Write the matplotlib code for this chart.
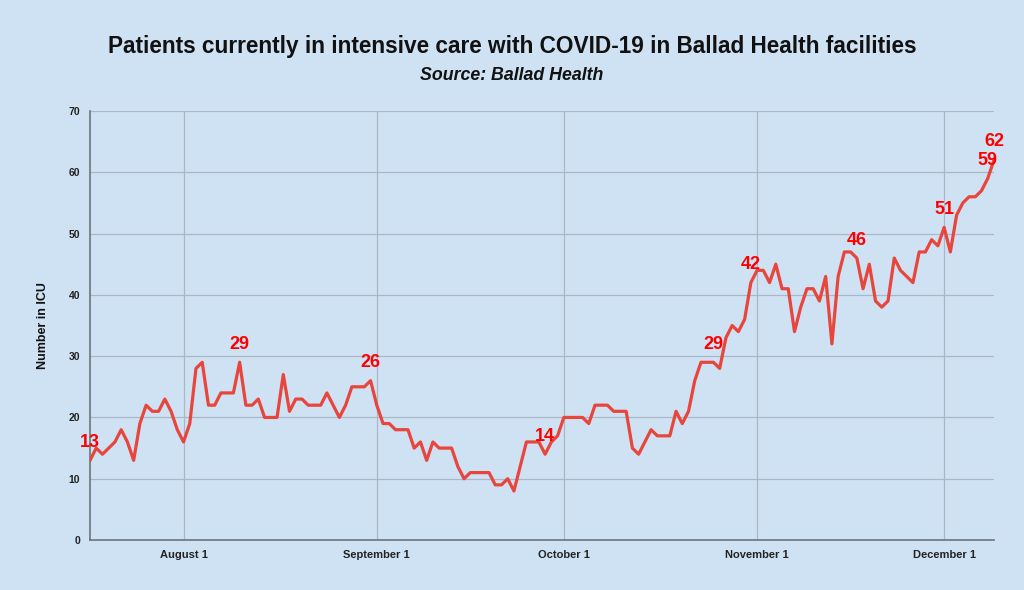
import matplotlib
matplotlib.use("Agg")
import matplotlib.pyplot as plt
import matplotlib.dates as mdates
import pandas as pd

# daily ICU counts, July 17 - December 9
start_date = "2020-07-17"
end_date = "2020-12-09"
icu_jul = [13, 15, 14, 15, 16, 18, 16, 13, 19, 22, 21, 21, 23, 21, 18]
icu_aug = [16, 19, 28, 29, 22, 22, 24, 24, 24, 29,
           22, 22, 23, 20, 20, 20, 27, 21, 23, 23,
           22, 22, 22, 24, 22, 20, 22, 25, 25, 25, 26]
icu_sep = [22, 19, 19, 18, 18, 18, 15, 16, 13, 16,
           15, 15, 15, 12, 10, 11, 11, 11, 11, 9,
           9, 10, 8, 12, 16, 16, 16, 14, 16, 17]
icu_oct = [20, 20, 20, 20, 19, 22, 22, 22, 21, 21,
           21, 15, 14, 16, 18, 17, 17, 17, 21, 19,
           21, 26, 29, 29, 29, 28, 33, 35, 34, 36, 42]
icu_nov = [44, 44, 42, 45, 41, 41, 34, 38, 41, 41,
           39, 43, 32, 43, 47, 47, 46, 41, 45, 39,
           38, 39, 46, 44, 43, 42, 47, 47, 49, 48]
icu_dec = [51, 47, 53, 55, 56, 56, 57, 59, 62]

# points with a value label
label_dates = ["2020-07-17", "2020-08-10", "2020-08-31", "2020-09-28", "2020-10-25",
               "2020-10-31", "2020-11-17", "2020-12-01", "2020-12-08", "2020-12-09"]

month_ticks = ["2020-08-01", "2020-09-01", "2020-10-01", "2020-11-01", "2020-12-01"]
month_labels = ["August 1", "September 1", "October 1", "November 1", "December 1"]

dates = pd.date_range(start_date, end_date, freq="D")
values = icu_jul + icu_aug + icu_sep + icu_oct + icu_nov + icu_dec
series = pd.Series(values, index=dates)

bg = "#cfe2f3"
plt.rcParams["font.family"] = ["Liberation Sans", "DejaVu Sans"]

fig = plt.figure(figsize=(10.24, 5.9), dpi=100, facecolor=bg)
ax = fig.add_axes([0.0879, 0.0847, 0.8828, 0.7272])
ax.set_facecolor(bg)

ax.plot(series.index, series.values, color="#e8453c", linewidth=2.3, zorder=3)

for d in label_dates:
    v = series[pd.Timestamp(d)]
    ax.annotate(str(v), (pd.Timestamp(d), v), xytext=(0, 13), textcoords="offset points",
                ha="center", va="center", color="#ff0000", fontsize=13,
                fontweight="bold", zorder=4)

ax.set_xlim(pd.Timestamp(start_date), pd.Timestamp(end_date))
ax.set_ylim(0, 70)
ax.set_yticks(range(0, 71, 10))
ax.set_xticks([pd.Timestamp(t) for t in month_ticks])
ax.set_xticklabels(month_labels)

ax.grid(True, color="#aab8c5", linewidth=0.9, zorder=1)
ax.set_axisbelow(True)
for s in ["top", "right"]:
    ax.spines[s].set_visible(False)
for s in ["left", "bottom"]:
    ax.spines[s].set_color("#6b747c")
    ax.spines[s].set_linewidth(1.2)

ax.tick_params(axis="both", length=0, labelcolor="#222222")
ax.tick_params(axis="y", pad=7, labelsize=7.5)
ax.tick_params(axis="x", pad=7, labelsize=8)
for lbl in ax.get_xticklabels() + ax.get_yticklabels():
    lbl.set_fontweight("bold")

ax.set_ylabel("Number in ICU", fontsize=9, fontweight="bold", labelpad=14, color="#111111")

fig.text(0.5, 0.922, "Patients currently in intensive care with COVID-19 in Ballad Health facilities",
         ha="center", va="center", fontsize=16.3, fontweight="bold", color="#111111")
fig.text(0.5, 0.872, "Source: Ballad Health", ha="center", va="center", fontsize=12.8,
         fontweight="bold", fontstyle="italic", color="#111111")

fig.savefig("out.png", dpi=100, facecolor=bg)
